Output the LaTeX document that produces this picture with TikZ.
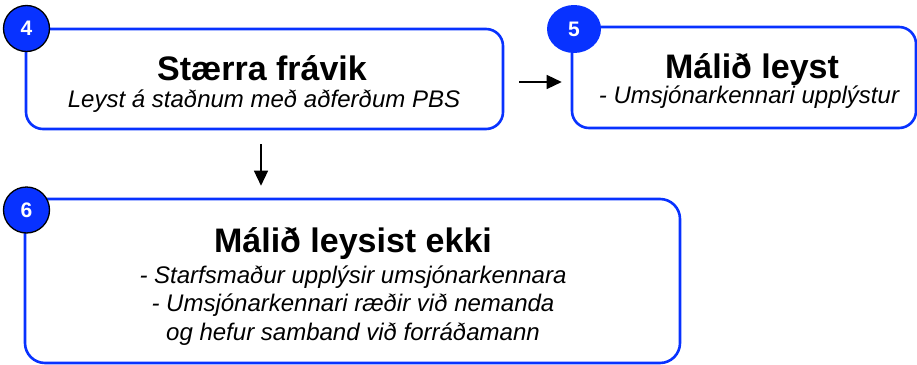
\documentclass[tikz,border=0pt]{standalone}
\usepackage{fontspec}
\setmainfont{Liberation Sans}
\usepackage{xcolor}
\usepackage{tikz}
\usetikzlibrary{shapes.geometric, arrows.meta, positioning, calc}

\definecolor{skrefblue}{RGB}{8,50,255}

\tikzset{
    skref/.style={rectangle,draw=skrefblue,line width=2.6pt,fill=white,rounded corners=17pt,inner sep=0pt},
    numer/.style={ellipse,fill=skrefblue,text=white,font=\fontsize{21}{21}\selectfont\bfseries,inner sep=0pt},
    titill/.style={anchor=base,font=\fontsize{34}{40}\selectfont\bfseries},
    lysing/.style={anchor=base,align=center,font=\fontsize{24}{28.5}\selectfont\itshape},
    or/.style={line width=1.4pt,-{Triangle[length=15pt,width=14pt]}}
}

\begin{document}
\begin{tikzpicture}[x=1pt,y=-1pt]
    \useasboundingbox (0,0) rectangle (917,364);

    % Skref 4
    \node[skref,minimum width=477pt,minimum height=100pt] (box4) at (264.5,79) {};
    \node[titill] (titill4) at (262,80) {Stærra frávik};
    \node[lysing] (lysing4) at (264,107) {Leyst á staðnum með aðferðum PBS};
    \node[numer,draw=black,line width=1.3pt,minimum width=46pt,minimum height=46pt] (num4) at (26.5,28.5) {4};

    % Skref 5
    \node[skref,minimum width=344pt,minimum height=101pt] (box5) at (744,77.5) {};
    \node[titill] (titill5) at (752,78) {Málið leyst};
    \node[lysing] (lysing5) at (749,103) {- Umsjónarkennari upplýstur};
    \node[numer,minimum width=54pt,minimum height=48pt] (num5) at (574,29) {5};

    % Skref 6
    \node[skref,minimum width=655pt,minimum height=164pt,rounded corners=20pt] (box6) at (352.5,281) {};
    \node[titill] (titill6) at (353,252) {Málið leysist ekki};
    \node[lysing,anchor=north] (lysing6) at (353,262) {- Starfsmaður upplýsir umsjónarkennara \\
        - Umsjónarkennari ræðir við nemanda \\
        og hefur samband við forráðamann};
    \node[numer,draw=black,line width=1.3pt,minimum width=46pt,minimum height=46pt] (num6) at (26.5,210) {6};

    % Örvar
    \draw[or,shorten <=15pt,shorten >=9pt] ([yshift=-3pt]box4.east) -- ([yshift=-3pt]box4.east -| box5.west);
    \draw[or,shorten <=14pt,shorten >=12pt] ([xshift=-3.5pt]box4.south) -- ([xshift=-3.5pt]box4.south |- box6.north);
\end{tikzpicture}
\end{document}
